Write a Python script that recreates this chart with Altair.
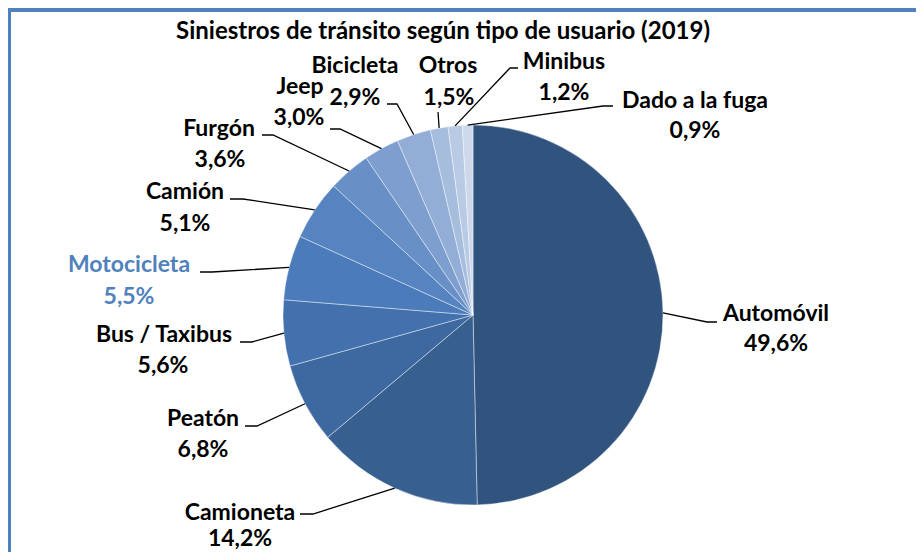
import altair as alt
import numpy as np
import pandas as pd

# ---------------- data ----------------
categories = ["Automóvil", "Camioneta", "Peatón", "Bus / Taxibus", "Motocicleta",
              "Camión", "Furgón", "Jeep", "Bicicleta", "Otros", "Minibus", "Dado a la fuga"]
values = [49.6, 14.2, 6.8, 5.6, 5.5, 5.1, 3.6, 3.0, 2.9, 1.5, 1.2, 0.9]
title_text = "Siniestros de tránsito según tipo de usuario (2019)"

# ---------------- style ----------------
slice_colors = ["#31547F", "#375F90", "#3D68A0", "#4371AD", "#4B7BBA", "#5584C1",
                "#6890C7", "#7D9ECE", "#93AED6", "#A7BDDD", "#B9CAE4", "#CDD8EB"]
label_colors = ["#000000"] * 4 + ["#4F81BD"] + ["#000000"] * 7
FONT = "Lato"
LABEL_SIZE = 23
TITLE_SIZE = 24
FRAME = "#4F81BD"

# ---------------- layout (chart pixels) ----------------
W, H = 908, 544
CX, CY, R = 465, 307, 190
OFF = 8  # page margin; layout below measured in page pixels


def p(v):
    return v - OFF


# name (x, baseline), pct (x, baseline), leader start, leader knee  -- page px
label_layout = [
    ((776, 321), (776, 351), (717, 322), (707, 322)),
    ((240, 520), (240, 546), (300, 514), (313, 514)),
    ((203, 426), (203, 457), (245, 426), (257, 426)),
    ((164, 342), (163, 373), (240, 342), (252, 342)),
    ((129, 272), (129, 304), (200, 272), (212, 272)),
    ((185, 199), (185, 231), (230, 199), (243, 199)),
    ((219, 136), (220, 167), (262, 135), (273, 135)),
    ((300, 94), (299, 125), (330, 129), (340, 129)),
    ((355, 73), (355, 105), (387, 104), (397, 104)),
    ((448, 73), (449, 105), (438, 112), (438, 112)),
    ((564, 69), (564, 100), (518, 68), (510, 68)),
    ((695, 108), (695, 138), (613, 106), (603, 106)),
]

total = float(sum(values))
vals = np.array(values)
mid = np.cumsum(vals) - vals / 2
ang = 2 * np.pi * mid / total
edge_x = CX + R * np.sin(ang)
edge_y = CY - R * np.cos(ang)

pie_df = pd.DataFrame({"category": categories, "value": values, "idx": range(len(values))})

line_rows = []
text_rows = []
for i, cat in enumerate(categories):
    (nx, ny), (qx, qy), (sx, sy), (kx, ky) = label_layout[i]
    line_rows += [
        {"category": cat, "seq": 0, "x": p(sx), "y": p(sy)},
        {"category": cat, "seq": 1, "x": p(kx), "y": p(ky)},
        {"category": cat, "seq": 2, "x": edge_x[i], "y": edge_y[i]},
    ]
    pct = f"{values[i]:.1f}".replace(".", ",") + "%"
    text_rows.append({"text": cat, "x": p(nx), "y": p(ny), "color": label_colors[i]})
    text_rows.append({"text": pct, "x": p(qx), "y": p(qy), "color": label_colors[i]})

line_df = pd.DataFrame(line_rows)
text_df = pd.DataFrame(text_rows)
title_df = pd.DataFrame({"text": [title_text], "x": [p(443)], "y": [p(39)]})

xs = alt.Scale(domain=[0, W], nice=False, zero=False)
ys = alt.Scale(domain=[0, H], nice=False, zero=False, reverse=True)

pie = alt.Chart(pie_df).mark_arc(radius=R, stroke="#FFFFFF", strokeWidth=0.6, strokeOpacity=0.7).encode(
    theta=alt.Theta("value:Q", stack=True),
    order=alt.Order("idx:Q"),
    color=alt.Color("category:N", scale=alt.Scale(domain=categories, range=slice_colors), legend=None),
    x=alt.value(CX),
    y=alt.value(CY),
)

leaders = alt.Chart(line_df).mark_line(color="#000000", strokeWidth=1.3).encode(
    x=alt.X("x:Q", scale=xs, axis=None),
    y=alt.Y("y:Q", scale=ys, axis=None),
    detail="category:N",
    order="seq:Q",
)

labels = alt.Chart(text_df).mark_text(
    font=FONT, fontWeight="bold", fontSize=LABEL_SIZE, align="center", baseline="alphabetic"
).encode(
    x=alt.X("x:Q", scale=xs, axis=None),
    y=alt.Y("y:Q", scale=ys, axis=None),
    text="text:N",
    color=alt.Color("color:N", scale=None),
)

title = alt.Chart(title_df).mark_text(
    font=FONT, fontWeight="bold", fontSize=TITLE_SIZE, align="center", baseline="alphabetic", color="#000000"
).encode(
    x=alt.X("x:Q", scale=xs, axis=None),
    y=alt.Y("y:Q", scale=ys, axis=None),
    text="text:N",
)

frame_df = pd.DataFrame({"k": [0]})
frame_top = alt.Chart(frame_df).mark_rule(color=FRAME, strokeWidth=4).encode(
    x=alt.value(0), x2=alt.value(W), y=alt.value(2)
)
frame_left = alt.Chart(frame_df).mark_rule(color=FRAME, strokeWidth=3).encode(
    x=alt.value(1.5), y=alt.value(0), y2=alt.value(H)
)

chart = alt.layer(pie, leaders, labels, title, frame_top, frame_left).properties(
    width=W, height=H, padding=0, autosize=alt.AutoSizeParams(type="none"),
    background="#FFFFFF",
).configure_view(stroke=None)

chart.save("out.html", embed_options={"renderer": "svg", "actions": False})
